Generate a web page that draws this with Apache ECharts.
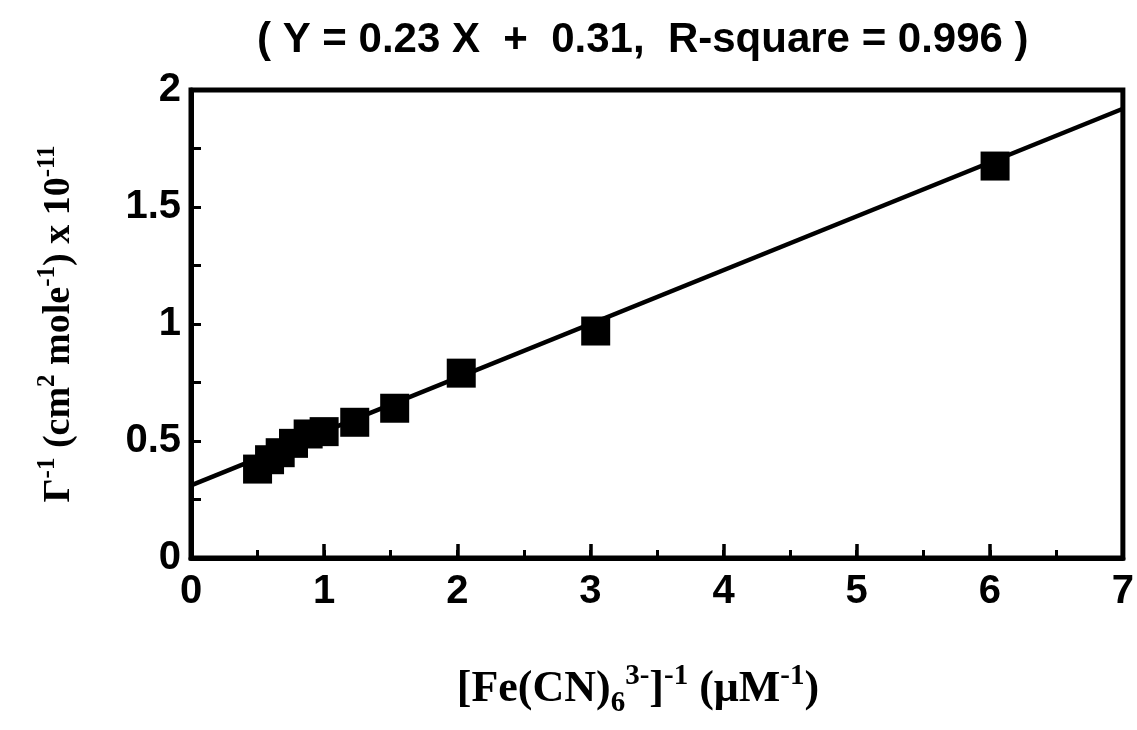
<!DOCTYPE html>
<html>
<head>
<meta charset="utf-8">
<script src="https://cdn.jsdelivr.net/npm/echarts@6/dist/echarts.min.js"></script>
<style>html,body{margin:0;padding:0;background:#fff;}#c{width:1137px;height:730px;}</style>
</head>
<body>
<div id="c"></div>
<script>
// Data
const xValues = [0.50, 0.59, 0.67, 0.77, 0.88, 1.00, 1.23, 1.53, 2.03, 3.04, 6.04];
const yValues = [0.38, 0.42, 0.45, 0.49, 0.53, 0.54, 0.58, 0.64, 0.79, 0.97, 1.675];
const fitX = [0, 7];
const fitY = [0.31, 1.92];
const xRange = [0, 7];
const yRange = [0, 2];
const xMajorStep = 1, xMinorStep = 0.5;
const yMajorStep = 0.5, yMinorStep = 0.25;
const titleText = '( Y = 0.23 X  +  0.31,  R-square = 0.996 )';

const points = xValues.map((x, i) => [x, yValues[i]]);
const fitLine = fitX.map((x, i) => [x, fitY[i]]);

const serif = '"Liberation Serif", "DejaVu Serif", serif';
const sans = '"Liberation Sans", Arial, sans-serif';
function richSet(main, sup, lh) {
  return {
    m: {fontFamily: serif, fontWeight: 'bold', fontSize: main, lineHeight: lh, color: '#000'},
    sup: {fontFamily: serif, fontWeight: 'bold', fontSize: sup, lineHeight: lh, verticalAlign: 'top', color: '#000'},
    sub: {fontFamily: serif, fontWeight: 'bold', fontSize: sup, lineHeight: lh, verticalAlign: 'bottom', color: '#000'}
  };
}
const labelStyle = {fontFamily: sans, fontWeight: 'bold', fontSize: 40, color: '#000'};

const chart = echarts.init(document.getElementById('c'), null, {renderer: 'canvas'});
chart.setOption({
  animation: false,
  backgroundColor: '#fff',
  title: {
    text: titleText,
    left: 252,
    top: 14,
    textStyle: {fontFamily: sans, fontWeight: 'bold', fontSize: 42, color: '#000'}
  },
  grid: {left: 191, right: 13, top: 90, bottom: 172, show: true, borderColor: '#000', borderWidth: 5, backgroundColor: 'transparent'},
  xAxis: [
    {
      type: 'value', min: xRange[0], max: xRange[1], interval: xMajorStep, position: 'bottom',
      axisLine: {show: true, lineStyle: {color: '#000', width: 5}},
      axisTick: {show: true, inside: true, length: 14, lineStyle: {color: '#000', width: 3.5}},
      minorTick: {show: false},
      splitLine: {show: false},
      axisLabel: Object.assign({margin: 14}, labelStyle),
      name: '{m|[Fe(CN)}{sub|6}{sup|3-}{m|]}{sup|-1}{m| (μM}{sup|-1}{m|)}',
      nameLocation: 'middle',
      nameGap: 104,
      nameTextStyle: {rich: richSet(44, 29, 56), padding: [0, 38, 0, 0]}
    },
    {
      type: 'value', min: xRange[0], max: xRange[1], interval: xMinorStep, position: 'bottom',
      axisLine: {show: false},
      axisTick: {show: true, inside: true, length: 8, lineStyle: {color: '#000', width: 3}},
      minorTick: {show: false},
      splitLine: {show: false},
      axisLabel: {show: false}
    }
  ],
  yAxis: [
    {
      type: 'value', min: yRange[0], max: yRange[1], interval: yMajorStep, position: 'left',
      axisLine: {show: true, lineStyle: {color: '#000', width: 5}},
      axisTick: {show: true, inside: true, length: 10, lineStyle: {color: '#000', width: 3}},
      minorTick: {show: false},
      splitLine: {show: false},
      axisLabel: Object.assign({margin: 10}, labelStyle),
      name: '{m|Γ}{sup|-1}{m| (cm}{sup|2}{m| mole}{sup|-1}{m|) x 10}{sup|-11}',
      nameLocation: 'middle',
      nameRotate: 90,
      nameGap: 108,
      nameTextStyle: {rich: richSet(38, 25, 48)}
    },
    {
      type: 'value', min: yRange[0], max: yRange[1], interval: yMinorStep, position: 'left',
      axisLine: {show: false},
      axisTick: {show: true, inside: true, length: 10, lineStyle: {color: '#000', width: 3}},
      minorTick: {show: false},
      splitLine: {show: false},
      axisLabel: {show: false}
    }
  ],
  series: [
    {
      type: 'line', data: fitLine, symbol: 'none', silent: true, xAxisIndex: 0, yAxisIndex: 0,
      lineStyle: {color: '#000', width: 4.5}, z: 2
    },
    {
      type: 'scatter', data: points, symbol: 'rect', symbolSize: 29, xAxisIndex: 0, yAxisIndex: 0,
      itemStyle: {color: '#000', opacity: 1}, z: 3
    }
  ]
});
</script>
</body>
</html>
